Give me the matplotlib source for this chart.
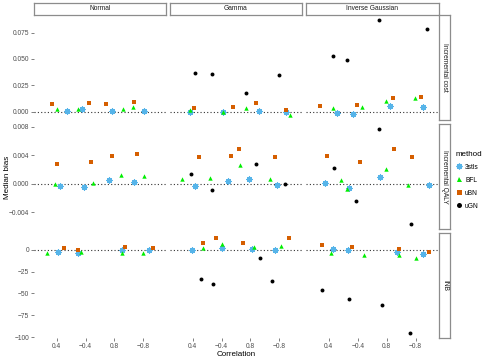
import numpy as np
import matplotlib
matplotlib.use("Agg")
import matplotlib.pyplot as plt
from matplotlib.lines import Line2D

plt.rcParams['font.family'] = ['Liberation Sans', 'DejaVu Sans']

dists = ["Normal", "Gamma", "Inverse Gaussian"]
outcomes = ["Incremental cost", "Incremental QALY", "INB"]
corr_labels = ["0.4", "\u22120.4", "0.8", "\u22120.8"]
methods = ["3stls", "BFL", "uBN", "uGN"]

# values per panel: Normal (4), Gamma (4), Inverse Gaussian (4); x = jittered correlation slot
cost_3stls = [0.0004, 0.0023, 0.0007, 0.0004, -0.0006, -0.0006, 0.0007, -0.0003, -0.0015, -0.0025, 0.0051, 0.0045]
cost_3stls_x = [1.36, 1.89, 2.91, 4.01, 0.89, 2.04, 3.29, 4.22, 1.27, 1.85, 3.11, 4.24]
cost_bfl = [0.0026, 0.0029, 0.0023, 0.0048, 0.0013, 0.0000, 0.0038, -0.0034, 0.0038, 0.0042, 0.0102, 0.0130]
cost_bfl_x = [1.01, 1.74, 3.30, 3.65, 0.89, 2.04, 2.84, 4.37, 1.16, 2.13, 2.97, 3.97]
cost_ubn = [0.0076, 0.0086, 0.0070, 0.0095, 0.0038, 0.0048, 0.0083, 0.0013, 0.0057, 0.0061, 0.0130, 0.0137]
cost_ubn_x = [0.85, 2.12, 2.71, 3.67, 1.03, 2.39, 3.18, 4.25, 0.68, 1.99, 3.21, 4.18]
cost_ugn = [None] * 4 + [0.0371, 0.0359, 0.0178, 0.0352, 0.0527, 0.0492, 0.0872, 0.0789]
cost_ugn_x = [None] * 4 + [1.08, 1.68, 2.83, 4.00, 1.13, 1.63, 2.75, 4.40]

qaly_3stls = [-0.0004, -0.00046, 0.00046, 0.00023, -0.00032, 0.00038, 0.0006, -0.00014, 0.0001, -0.00065, 0.00093, -0.00018]
qaly_3stls_x = [1.11, 1.95, 2.81, 3.69, 1.08, 2.23, 2.95, 3.93, 0.85, 1.68, 2.77, 4.45]
qaly_bfl = [0.0, 0.00014, 0.00125, 0.0011, 0.0006, 0.00084, 0.0026, 0.0006, 0.00056, -0.00074, 0.0020, -0.00018]
qaly_bfl_x = [0.95, 2.25, 3.22, 4.04, 0.63, 1.60, 2.63, 3.68, 1.41, 1.61, 2.99, 3.72]
qaly_ubn = [0.0028, 0.0030, 0.0039, 0.0042, 0.0037, 0.0039, 0.0048, 0.0038, 0.0039, 0.0031, 0.0048, 0.0037]
qaly_ubn_x = [1.01, 2.19, 2.93, 3.78, 1.21, 2.34, 2.60, 3.87, 0.94, 2.09, 3.24, 3.87]
qaly_ugn = [None] * 4 + [0.0013, -0.00084, 0.0027, 0.0, 0.0022, -0.0024, 0.0077, -0.0057]
qaly_ugn_x = [None] * 4 + [0.94, 1.68, 3.21, 4.19, 1.19, 1.94, 2.72, 3.84]

inb_3stls = [-2.0, -3.8, 0.0, 0.0, 0.0, 1.8, 1.1, 0.0, 1.5, 0.0, -2.3, -5.0]
inb_3stls_x = [1.03, 1.74, 3.28, 4.19, 0.97, 2.01, 3.06, 3.87, 1.15, 1.65, 3.36, 4.25]
inb_bfl = [-3.1, -2.3, -3.8, -3.1, 1.8, 7.2, 3.4, 4.6, -3.1, -5.4, -6.5, -9.6]
inb_bfl_x = [0.65, 1.83, 3.26, 3.99, 1.34, 2.00, 3.13, 4.06, 1.09, 2.22, 3.42, 4.01]
inb_ubn = [1.8, 0.0, 3.0, 2.3, 8.0, 13.8, 8.0, 13.8, 5.7, 3.0, 1.5, -2.3]
inb_ubn_x = [1.25, 1.75, 3.37, 4.33, 1.34, 1.79, 2.75, 4.34, 0.76, 1.80, 3.42, 4.45]
inb_ugn = [None] * 4 + [-33.0, -38.7, -9.2, -35.6, -45.9, -55.9, -62.7, -95.6]
inb_ugn_x = [None] * 4 + [1.28, 1.69, 3.34, 3.75, 0.75, 1.68, 2.82, 3.81]

rows = [
    [(cost_3stls_x, cost_3stls), (cost_bfl_x, cost_bfl), (cost_ubn_x, cost_ubn), (cost_ugn_x, cost_ugn)],
    [(qaly_3stls_x, qaly_3stls), (qaly_bfl_x, qaly_bfl), (qaly_ubn_x, qaly_ubn), (qaly_ugn_x, qaly_ugn)],
    [(inb_3stls_x, inb_3stls), (inb_bfl_x, inb_bfl), (inb_ubn_x, inb_ubn), (inb_ugn_x, inb_ugn)],
]
yticks = [[0, 0.025, 0.05, 0.075], [-0.004, 0, 0.004, 0.008], [-100, -75, -50, -25, 0]]
ytick_fmt = ["{:.3f}", "{:.3f}", "{:.0f}"]

styles = {
    "3stls": dict(marker=(8, 2, 0), color="#56B4E9", s=14, linewidths=0.9),
    "BFL": dict(marker="^", color="#00EE00", s=10, linewidths=0),
    "uBN": dict(marker="s", color="#D55E00", s=8, linewidths=0),
    "uGN": dict(marker="o", color="black", s=8, linewidths=0),
}

W, H = 495, 360
fig = plt.figure(figsize=(W / 100, H / 100), dpi=100)


def px_axes(x0, y0, x1, y1):
    return fig.add_axes([x0 / W, 1 - y1 / H, (x1 - x0) / W, (y1 - y0) / H])


col_x = [(34, 166), (170, 302), (306, 438.5)]
row_y = [(15, 120), (124, 229), (233, 338)]
tick_col = "#4D4D4D"
strip_edge = "#8C8C8C"

for r in range(3):
    allv = [v for _, ys in rows[r] for v in ys if v is not None]
    lo, hi = min(allv), max(allv)
    pad = 0.05 * (hi - lo)
    for c in range(3):
        ax = px_axes(col_x[c][0], row_y[r][0], col_x[c][1], row_y[r][1])
        for s in ax.spines.values():
            s.set_visible(False)
        ax.axhline(0, color="#333333", lw=0.8, ls=(0, (1, 2)), zorder=1)
        for m, (xs, ys) in zip(methods, rows[r]):
            px = [xs[i] for i in range(c * 4, c * 4 + 4) if ys[i] is not None]
            py = [ys[i] for i in range(c * 4, c * 4 + 4) if ys[i] is not None]
            if px:
                ax.scatter(px, py, zorder=3, **styles[m])
        ax.set_xlim(0.21, 4.79)
        ax.set_ylim(lo - pad, hi + pad)
        ax.tick_params(length=2, width=0.5, color=tick_col, labelcolor=tick_col,
                       labelsize=4.8, pad=1.5)
        if c == 0:
            ax.set_yticks(yticks[r])
            ax.set_yticklabels([ytick_fmt[r].format(t).replace("-", "\u2212") for t in yticks[r]])
        else:
            ax.set_yticks([])
        if r == 2:
            ax.set_xticks([1, 2, 3, 4])
            ax.set_xticklabels(corr_labels)
        else:
            ax.set_xticks([])

# top strips
for c in range(3):
    sa = px_axes(col_x[c][0], 3, col_x[c][1], 15)
    sa.set_xticks([])
    sa.set_yticks([])
    for s in sa.spines.values():
        s.set_color(strip_edge)
        s.set_linewidth(0.9)
    sa.text(0.5, 0.5, dists[c], ha="center", va="center", fontsize=4.8,
            color="#1A1A1A", transform=sa.transAxes)

# right strips
for r in range(3):
    sa = px_axes(439, row_y[r][0], 450, row_y[r][1])
    sa.set_xticks([])
    sa.set_yticks([])
    for s in sa.spines.values():
        s.set_color(strip_edge)
        s.set_linewidth(0.9)
    sa.text(0.5, 0.5, outcomes[r], ha="center", va="center", fontsize=4.8,
            rotation=-90, color="#1A1A1A", transform=sa.transAxes)

fig.text(236 / W, 1 - 354 / H, "Correlation", ha="center", va="center", fontsize=5.8)
fig.text(8 / W, 1 - 177 / H, "Median bias", ha="center", va="center", fontsize=5.8,
         rotation=90)

handles = []
for m in methods:
    st = styles[m]
    filled = m != "3stls"
    handles.append(Line2D([], [], ls="none", marker=st["marker"], color=st["color"],
                          markersize=3.6 if filled else 4.2,
                          markeredgewidth=0 if filled else 0.9))
leg = fig.legend(handles, methods, title="method", loc="upper left",
                 bbox_to_anchor=(453 / W, 1 - 148 / H), frameon=False,
                 fontsize=4.8, title_fontsize=5.8, handlelength=1.0,
                 handletextpad=0.4, labelspacing=0.9, borderaxespad=0)
leg._legend_box.align = "left"

fig.savefig("out.png", dpi=100)
